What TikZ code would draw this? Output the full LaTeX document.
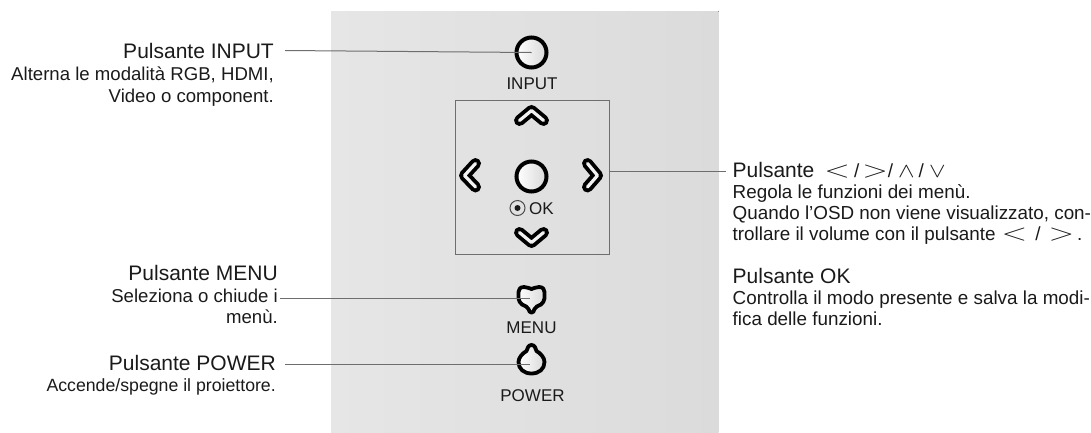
\documentclass[tikz,border=0pt]{standalone}
\usepackage{fontspec}
\setmainfont{Liberation Sans}
\definecolor{ink}{HTML}{1A1A1A}
\definecolor{leader}{HTML}{6E6E6E}
\definecolor{panelL}{HTML}{E6E6E6}
\definecolor{panelR}{HTML}{DBDBDB}
\newcommand{\bigsym}[1]{\scalebox{1.35}[0.95]{\fontsize{23}{23}\selectfont$#1$}}
\newcommand{\midsym}[1]{\scalebox{1.2}[1.0]{\fontsize{21}{21}\selectfont$#1$}}
\newcommand{\slashmark}{{\fontsize{19}{19}\selectfont/}}
\newcommand{\chevkey}[3]{\draw[chevout] #1 -- #2 -- #3; \draw[chevin] #1 -- #2 -- #3;}
\tikzset{
  x=1pt,y=-1pt,
  title/.style={inner sep=0pt,text=ink,font=\fontsize{21}{21}\selectfont},
  body/.style={inner sep=0pt,text=ink,font=\fontsize{18.85}{21}\selectfont},
  bodyleft/.style={inner sep=0pt,text=ink,font=\fontsize{18.6}{21}\selectfont},
  bodytight/.style={inner sep=0pt,text=ink,font=\fontsize{17.7}{21}\selectfont},
  keylabel/.style={inner sep=0pt,text=ink,font=\fontsize{17}{17}\selectfont},
  leaderline/.style={draw=leader,line width=1pt},
  keyround/.style={circle,minimum size=30pt,inner sep=0pt,draw=black,line width=4pt,left color=white,right color=black!15},
  keyshape/.style={draw=black,line width=3.8pt,line join=round,left color=white,right color=black!15},
  chevout/.style={draw=black,line width=11pt,line cap=round,line join=round},
  chevin/.style={draw=white!95!black,line width=3.2pt,line cap=round,line join=round},
}
\begin{document}
\begin{tikzpicture}
\useasboundingbox (0,0) rectangle (1091,432);
\fill[left color=panelL,right color=panelR,draw=none] (331,11) rectangle (718.5,432);
% D-pad frame
\node[draw=leader,line width=1pt,minimum width=154pt,minimum height=154pt,inner sep=0pt] (pad) at (532,177) {};
% round keys
\node[keyround] (input) at (531.5,52.5) {};
\node[keyround] (ok) at (531.5,176.5) {};
% arrows
\chevkey{(519.5,120.5)}{(531.5,110.5)}{(543.5,120.5)}
\chevkey{(519.5,232.5)}{(531.5,242.5)}{(543.5,232.5)}
\chevkey{(587.5,163.5)}{(597.5,175.5)}{(587.5,187)}
\chevkey{(475.5,163.5)}{(464.5,175.5)}{(475.5,187)}
\coordinate (rightkey) at (603,171);
% menu key
\path[keyshape] (524,287) .. controls (527.5,286.5) and (529,289) .. (531.5,289)
  .. controls (534,289) and (535.5,286.5) .. (539,287)
  .. controls (543,287) and (544.5,289.5) .. (544.5,292)
  .. controls (544.5,296) and (545.5,301) .. (541,304.5)
  .. controls (538,306.5) and (535.5,306) .. (534.5,309)
  .. controls (534,311.5) and (533,312.5) .. (531.5,312.5)
  .. controls (530,312.5) and (529,311.5) .. (528.5,309)
  .. controls (527.5,306) and (525,306.5) .. (522,304.5)
  .. controls (517.5,301) and (518.5,296) .. (518.5,292)
  .. controls (518.5,289.5) and (520,287) .. (524,287) -- cycle;
\node[inner sep=0pt,minimum size=1pt] (menu) at (530,298) {};
% power key
\path[keyshape] (531.5,345) .. controls (535,345) and (535.5,348.5) .. (536.5,351)
  .. controls (541,353.5) and (544.5,358) .. (544.5,362)
  .. controls (544.5,369) and (539,373.5) .. (531.5,373.5)
  .. controls (524,373.5) and (518.5,369) .. (518.5,362)
  .. controls (518.5,358) and (522,353.5) .. (526.5,351)
  .. controls (527.5,348.5) and (528,345) .. (531.5,345) -- cycle;
\node[inner sep=0pt,minimum size=1pt] (power) at (530,364) {};
% key captions
\node[keylabel,anchor=base] (inputcap) at (532,89) {INPUT};
\node[keylabel,anchor=base] (menucap) at (531.5,333.5) {MENU};
\node[keylabel,anchor=base] (powercap) at (532.5,401) {POWER};
\node[keylabel,anchor=base west] (okcap) at (529,214) {OK};
\node[circle,draw=black!70,line width=1pt,minimum size=15pt,inner sep=0pt] (okring) at (517.5,208) {};
\fill[ink] (okring.center) circle (3pt);
% left texts
\node[title,anchor=base east] (t1) at (274,58) {Pulsante INPUT};
\node[bodyleft,anchor=base east] (b1a) at (274,80) {Alterna le modalità RGB, HDMI,};
\node[bodyleft,anchor=base east] (b1b) at (274,102) {Video o component.};
\node[title,anchor=base east] (t2) at (278,280) {Pulsante MENU};
\node[bodyleft,anchor=base east] (b2a) at (278,302) {Seleziona o chiude i};
\node[bodyleft,anchor=base east] (b2b) at (278,323.5) {menù.};
\node[title,anchor=base east] (t3) at (276,370) {Pulsante POWER};
\node[bodytight,anchor=base east] (b3a) at (276,391) {Accende/spegne il proiettore.};
% right texts
\node[title,anchor=base west] (t4) at (732.5,177) {Pulsante\hspace{10pt}\bigsym{<}\hspace{4pt}\slashmark\hspace{3pt}\bigsym{>}\slashmark\hspace{5pt}\midsym{\wedge}\hspace{4pt}\slashmark\hspace{5pt}\midsym{\vee}};
\node[body,anchor=base west] (b4a) at (732.5,198) {Regola le funzioni dei menù.};
\node[body,anchor=base west] (b4b) at (732.5,219) {Quando l’OSD non viene visualizzato, con-};
\node[body,anchor=base west] (b4c) at (732.5,240) {trollare il volume con il pulsante\hspace{6pt}\bigsym{<}\hspace{8pt}\slashmark\hspace{8pt}\bigsym{>}\hspace{3pt}.};
\node[title,anchor=base west] (t5) at (732.5,283) {Pulsante OK};
\node[body,anchor=base west] (b5a) at (732.5,304) {Controlla il modo presente e salva la modi-};
\node[body,anchor=base west] (b5b) at (732.5,325) {fica delle funzioni.};
% leaders
\coordinate (l1) at (285,50.5);
\coordinate (l2) at (280,298);
\coordinate (l3) at (285,364);
\coordinate (l4) at (726,171);
\draw[leaderline] (l1) -- (input.center);
\draw[leaderline] (l2) -- (menu.center);
\draw[leaderline] (l3) -- (power.center);
\draw[leaderline] (rightkey -| pad.east) -- (l4);
\end{tikzpicture}
\end{document}
